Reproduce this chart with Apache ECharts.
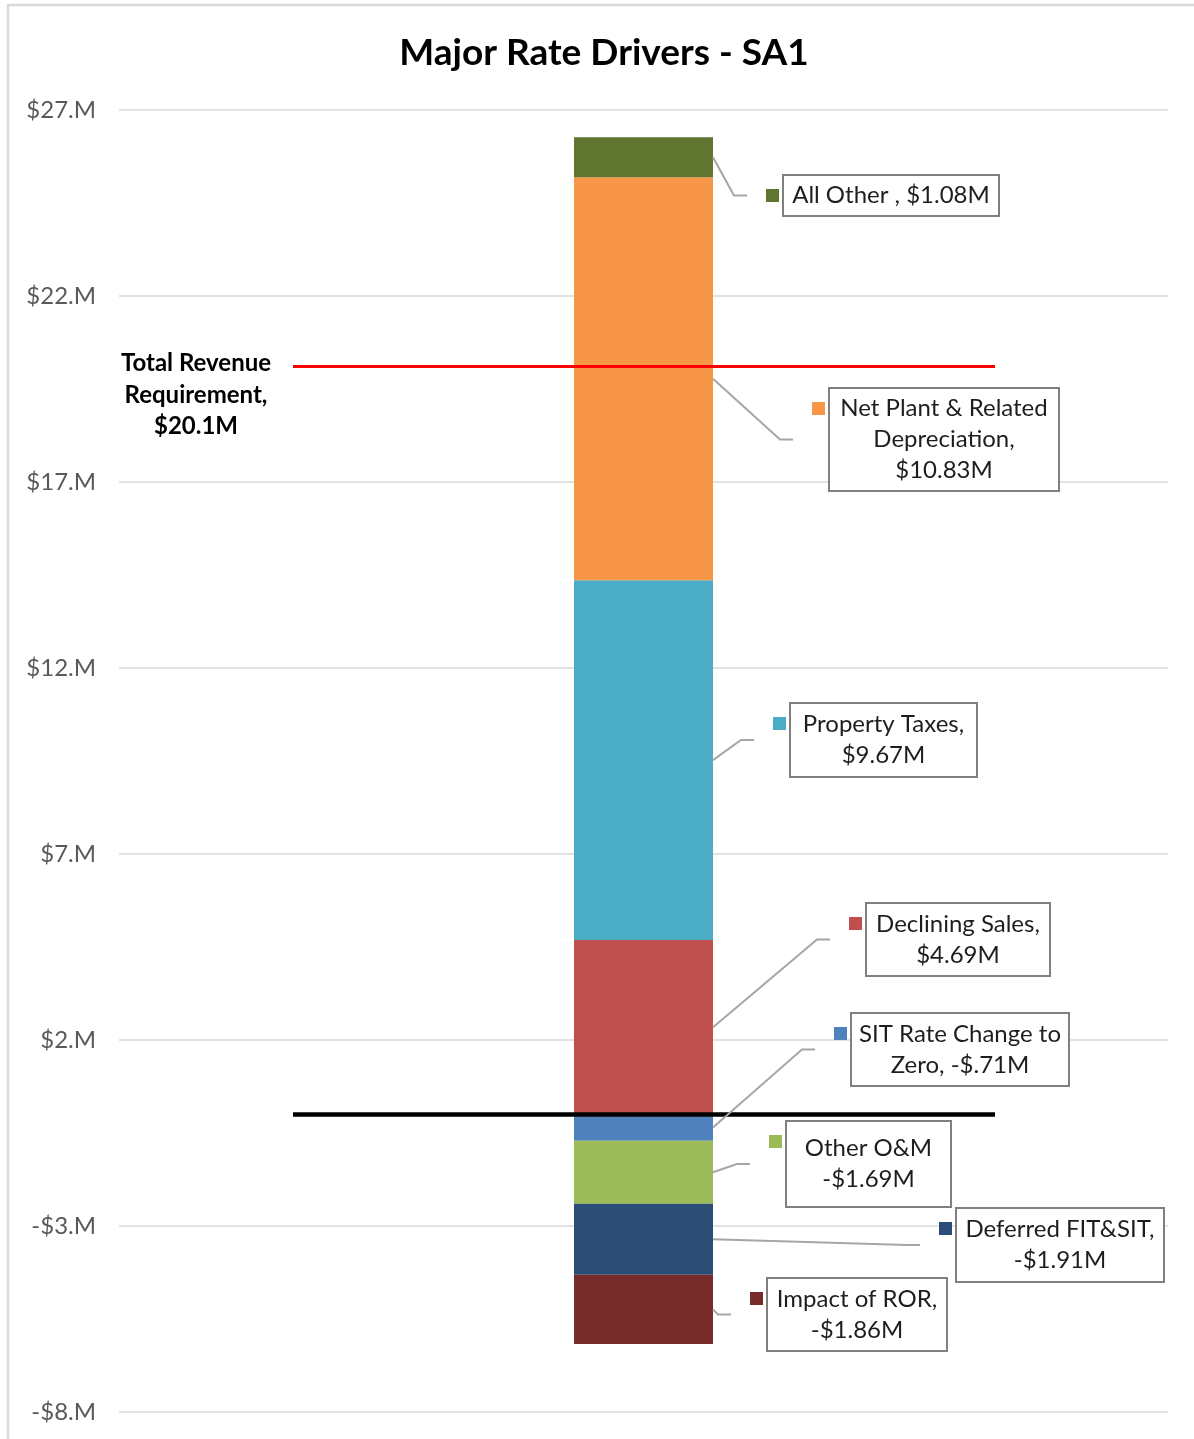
<!DOCTYPE html>
<html>
<head>
<meta charset="utf-8">
<script src="https://cdn.jsdelivr.net/npm/echarts@6/dist/echarts.min.js"></script>
<style>
html,body{margin:0;padding:0;background:#fff;}
#chart{width:1194px;height:1439px;}
</style>
</head>
<body>
<div id="chart"></div>
<script>
// ---- data ----
const categories = ['SA1'];
const seriesNames = ['Declining Sales', 'Property Taxes', 'Net Plant & Related Depreciation', 'All Other',
  'SIT Rate Change to Zero', 'Other O&M', 'Deferred FIT&SIT', 'Impact of ROR'];
const seriesValues = [4.69, 9.67, 10.83, 1.08, -0.71, -1.69, -1.91, -1.86];
const labelTexts = ['Declining Sales,\n$4.69M', 'Property Taxes,\n$9.67M', 'Net Plant & Related\nDepreciation,\n$10.83M',
  'All Other , $1.08M', 'SIT Rate Change to\nZero, -$.71M', 'Other O&M\n-$1.69M', 'Deferred FIT&SIT,\n-$1.91M', 'Impact of ROR,\n-$1.86M'];
const seriesColors = ['#c0504d', '#4bacc6', '#f79646', '#5f7530', '#4f81bd', '#9bbb59', '#2c4d75', '#772c2a'];
const totalRevenue = 20.1;
const totalRevenueLabel = 'Total Revenue\nRequirement,\n$20.1M';
const baseLine = 0;
const yMin = -8, yMax = 27, yStep = 5;

// ---- layout (pixels) : label box [left, top, width, height] ----
const labelBoxes = [
  [867, 904, 182, 71],
  [791, 704, 185, 72],
  [830, 389, 228, 101],
  [784, 176, 214, 39],
  [852, 1014, 216, 71],
  [787, 1122, 163, 84],
  [957, 1209, 206, 72],
  [768, 1279, 178, 71]
];
const FONT = 'Lato, "Noto Sans", sans-serif';
const LINE_H = 31;
const BAR_W = 139;
const refLineX = [293, 995];

const chart = echarts.init(document.getElementById('chart'), null, {renderer: 'canvas'});

const series = seriesNames.map((name, i) => {
  const b = labelBoxes[i];
  const nLines = labelTexts[i].split('\n').length;
  const pv = (b[3] - nLines * LINE_H) / 2;
  return {
    name: name,
    type: 'bar',
    stack: 'total',
    barWidth: BAR_W,
    data: [seriesValues[i]],
    itemStyle: {color: seriesColors[i]},
    label: {
      show: true,
      formatter: labelTexts[i],
      fontFamily: FONT,
      fontSize: 24,
      lineHeight: LINE_H,
      color: '#1e1e1e',
      align: 'center',
      verticalAlign: 'middle',
      width: b[2],
      padding: [pv + 1, 0, pv - 1, 0],
      backgroundColor: '#ffffff',
      borderColor: '#808080',
      borderWidth: 2
    },
    labelLayout: {
      x: b[0] + b[2] / 2,
      y: b[1] + b[3] / 2,
      align: 'center',
      verticalAlign: 'middle'
    },
    markPoint: {
      symbol: 'rect',
      symbolSize: 13,
      silent: true,
      label: {show: false},
      data: [{x: b[0] - 11.5, y: b[1] + 19.5}]
    },
    emphasis: {disabled: true}
  };
});

// reference lines (total revenue requirement and zero baseline)
series.push({
  name: 'refs',
  type: 'line',
  data: [],
  silent: true,
  markLine: {
    symbol: ['none', 'none'],
    silent: true,
    label: {show: false},
    z: 6,
    data: [
      [{xAxis: 0, yAxis: totalRevenue, x: refLineX[0], lineStyle: {color: '#ff0000', width: 3, type: 'solid'}},
       {xAxis: 0, yAxis: totalRevenue, x: refLineX[1]}],
      [{xAxis: 0, yAxis: baseLine, x: refLineX[0], lineStyle: {color: '#000000', width: 4.5, type: 'solid'}},
       {xAxis: 0, yAxis: baseLine, x: refLineX[1]}]
    ]
  }
});

const option = {
  animation: false,
  backgroundColor: '#ffffff',
  title: [
    {
      text: 'Major Rate Drivers - SA1',
      left: 604,
      top: 31,
      textAlign: 'center',
      padding: 0,
      textStyle: {fontFamily: FONT, fontWeight: 'bold', fontSize: 37, color: '#000', lineHeight: 44}
    },
    {
      text: totalRevenueLabel,
      left: 196,
      top: 348,
      textAlign: 'center',
      padding: 0,
      textStyle: {fontFamily: FONT, fontWeight: 'bold', fontSize: 24, color: '#000', lineHeight: 31.5}
    }
  ],
  grid: {left: 119, right: 26, top: 110, bottom: 27, containLabel: false},
  xAxis: {
    type: 'category',
    data: categories,
    show: false
  },
  yAxis: {
    type: 'value',
    min: yMin,
    max: yMax,
    interval: yStep,
    axisLine: {show: false},
    axisTick: {show: false},
    axisLabel: {
      color: '#595959',
      fontFamily: FONT,
      fontSize: 24,
      margin: 23,
      formatter: v => (v < 0 ? '-' : '') + '$' + Math.abs(v) + '.M'
    },
    splitLine: {lineStyle: {color: '#d9d9d9', width: 1.5}}
  },
  series: series,
  graphic: [
    {type: 'rect', shape: {x: 8, y: 5, width: 1300, height: 1500},
     style: {fill: 'none', stroke: '#d9d9d9', lineWidth: 2.5}, silent: true, z: -1}
  ]
};
chart.setOption(option);

// leader lines from the middle of each bar segment to its label
const leaders = [];
let posSum = 0, negSum = 0;
const barCenterX = chart.convertToPixel({xAxisIndex: 0}, categories[0]);
seriesValues.forEach((v, i) => {
  let start;
  if (v >= 0) { start = posSum; posSum += v; } else { start = negSum; negSum += v; }
  const mid = start + v / 2;
  const y0 = chart.convertToPixel({yAxisIndex: 0}, mid);
  const b = labelBoxes[i];
  const yc = b[1] + b[3] / 2;
  const endX = b[0] - 37;
  const elbowX = endX - 13;
  leaders.push({
    type: 'polyline',
    silent: true,
    z: 10,
    shape: {points: [[barCenterX + BAR_W / 2, y0], [elbowX, yc], [endX, yc]]},
    style: {fill: 'none', stroke: '#a6a6a6', lineWidth: 2}
  });
});
chart.setOption({graphic: option.graphic.concat(leaders)});
</script>
</body>
</html>
